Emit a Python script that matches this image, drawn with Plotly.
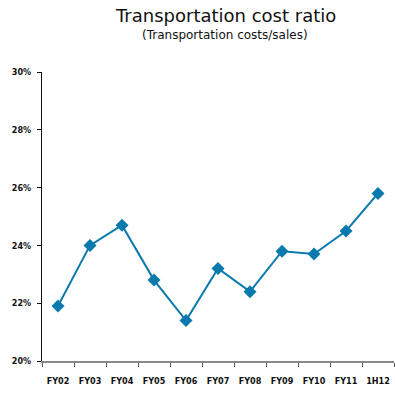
import plotly.graph_objects as go

# Transportation costs as a share of sales, by fiscal period
periods = ["FY02", "FY03", "FY04", "FY05", "FY06", "FY07", "FY08", "FY09", "FY10", "FY11", "1H12"]
cost_ratio_pct = [21.9, 24.0, 24.7, 22.8, 21.4, 23.2, 22.4, 23.8, 23.7, 24.5, 25.8]
y_ticks = [20, 22, 24, 26, 28, 30]
y_tick_labels = [f"{v}%" for v in y_ticks]

LINE_COLOR = "#0a7aae"
FONT = "DejaVu Sans"
TICK_FONT = "DejaVu Sans Condensed, DejaVu Sans"

fig = go.Figure(
    go.Scatter(
        x=periods,
        y=cost_ratio_pct,
        mode="lines+markers",
        line=dict(color=LINE_COLOR, width=2),
        marker=dict(symbol="diamond", size=10, color=LINE_COLOR),
        hoverinfo="x+y",
    )
)

fig.update_layout(
    width=395,
    height=394,
    margin=dict(l=42, r=1, t=72, b=33),
    paper_bgcolor="white",
    plot_bgcolor="white",
    showlegend=False,
    font=dict(family=FONT, color="#111"),
)

fig.add_annotation(
    text="Transportation cost ratio", xref="paper", yref="paper",
    x=0.52, y=1, yanchor="bottom", yshift=44, showarrow=False,
    font=dict(size=18, family=FONT, color="#111"),
)
fig.add_annotation(
    text="(Transportation costs/sales)", xref="paper", yref="paper",
    x=0.52, y=1, yanchor="bottom", yshift=28, showarrow=False,
    font=dict(size=12, family=FONT, color="#111"),
)

fig.update_xaxes(
    type="category",
    range=[-0.5, len(periods) - 0.5],
    tickson="boundaries",
    ticks="outside",
    ticklen=4,
    tickcolor="#555",
    tickangle=0,
    showline=True,
    linecolor="#888",
    linewidth=2,
    showgrid=False,
    tickfont=dict(size=9, family=TICK_FONT, color="#111", weight="bold"),
    ticklabelstandoff=10,
)
fig.update_yaxes(
    range=[20, 30],
    tickmode="array",
    tickvals=y_ticks,
    ticktext=y_tick_labels,
    ticks="outside",
    ticklen=4,
    tickcolor="#111",
    showline=True,
    linecolor="#111",
    linewidth=1,
    showgrid=False,
    zeroline=False,
    ticklabelstandoff=4,
    tickfont=dict(size=9, family=TICK_FONT, color="#111", weight="bold"),
)

fig.write_html("out.html")
